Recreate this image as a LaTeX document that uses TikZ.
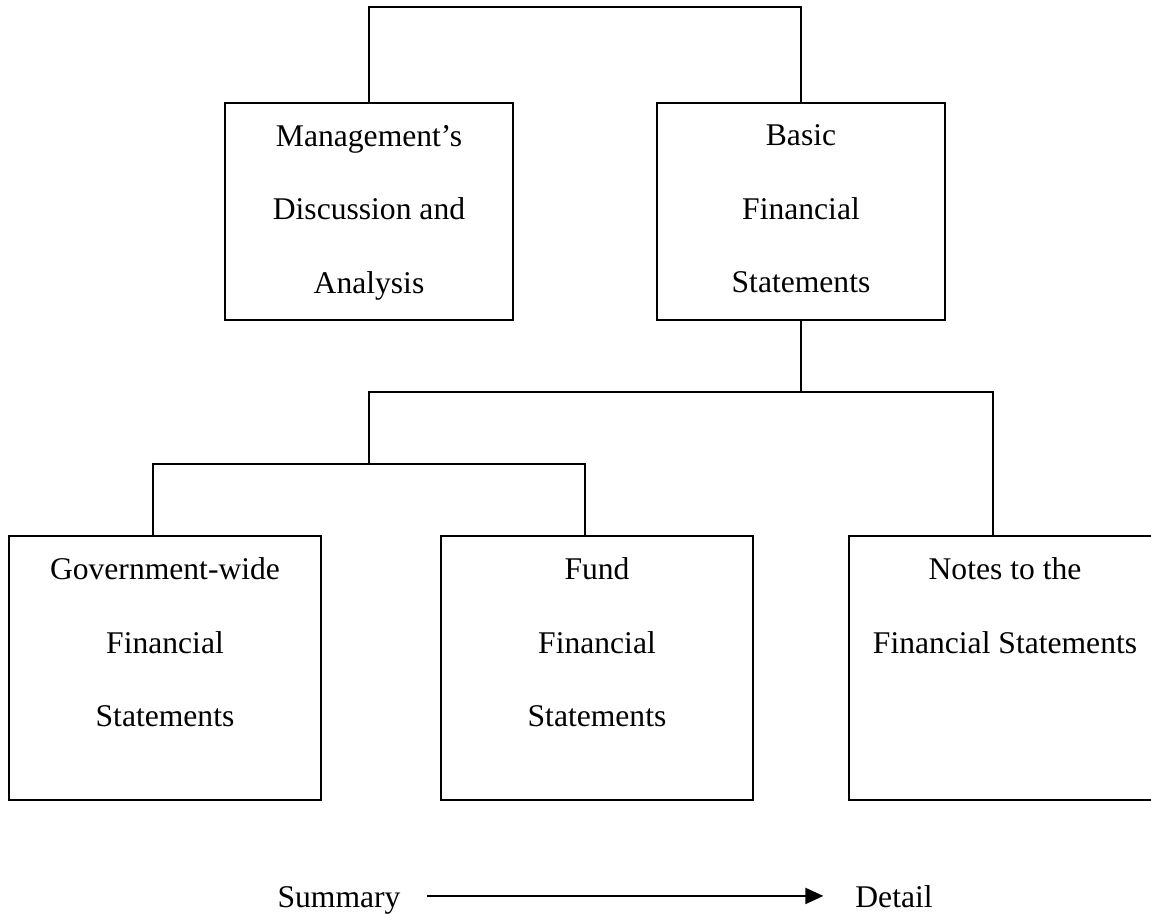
\documentclass[tikz,border=0pt]{standalone}
\usepackage{fontspec}
\setmainfont{Liberation Serif}
\usetikzlibrary{arrows.meta}
\begin{document}
\begin{tikzpicture}[x=0.5pt,y=-0.5pt,line width=1pt,
  every node/.style={font=\fontsize{15.8}{36.75}\selectfont},
  topbox/.style={draw,minimum width=144pt,minimum height=108.5pt,inner sep=0pt},
  lowbox/.style={draw,minimum width=156pt,minimum height=132pt,inner sep=0pt},
  boxtext/.style={anchor=north,yshift=-11pt,inner sep=0pt,align=center}]
\useasboundingbox (0,0) rectangle (1151,915);
\node[topbox] (mda) at (369,211.5) {};
\node[topbox] (basic) at (801,211.5) {};
\node[lowbox] (gov) at (165,668) {};
\node[lowbox] (fund) at (597,668) {};
\node[lowbox] (notes) at (1005,668) {};
\node[boxtext] (mdatext) at (mda.north) {Management's\\Discussion and\\Analysis};
\node[boxtext] (basictext) at (basic.north) {Basic\\Financial\\Statements};
\node[boxtext] (govtext) at (gov.north) {Government-wide\\Financial\\Statements};
\node[boxtext] (fundtext) at (fund.north) {Fund\\Financial\\Statements};
\node[boxtext] (notestext) at (notes.north) {Notes to the\\Financial Statements};
\draw (mda.north) -- ++(0,-95) -| (basic.north);
\draw (basic.south) -- ++(0,71) coordinate (split);
\draw ([xshift=-6pt]notes.north) |- (split) -- (split -| mda.south) -- ++(0,72) coordinate (fork);
\draw ([xshift=-6pt]gov.north) |- (fork) -| ([xshift=-6pt]fund.north);
\node[anchor=base,inner sep=0pt] (summary) at (339,907) {Summary};
\node[anchor=base,inner sep=0pt] (detail) at (894,907) {Detail};
\draw[-{Triangle[length=9pt,width=8pt]}] ([xshift=13pt,yshift=2pt]summary.east) -- ([xshift=-15.5pt,yshift=2pt]summary.east -| detail.west);
\end{tikzpicture}
\end{document}
